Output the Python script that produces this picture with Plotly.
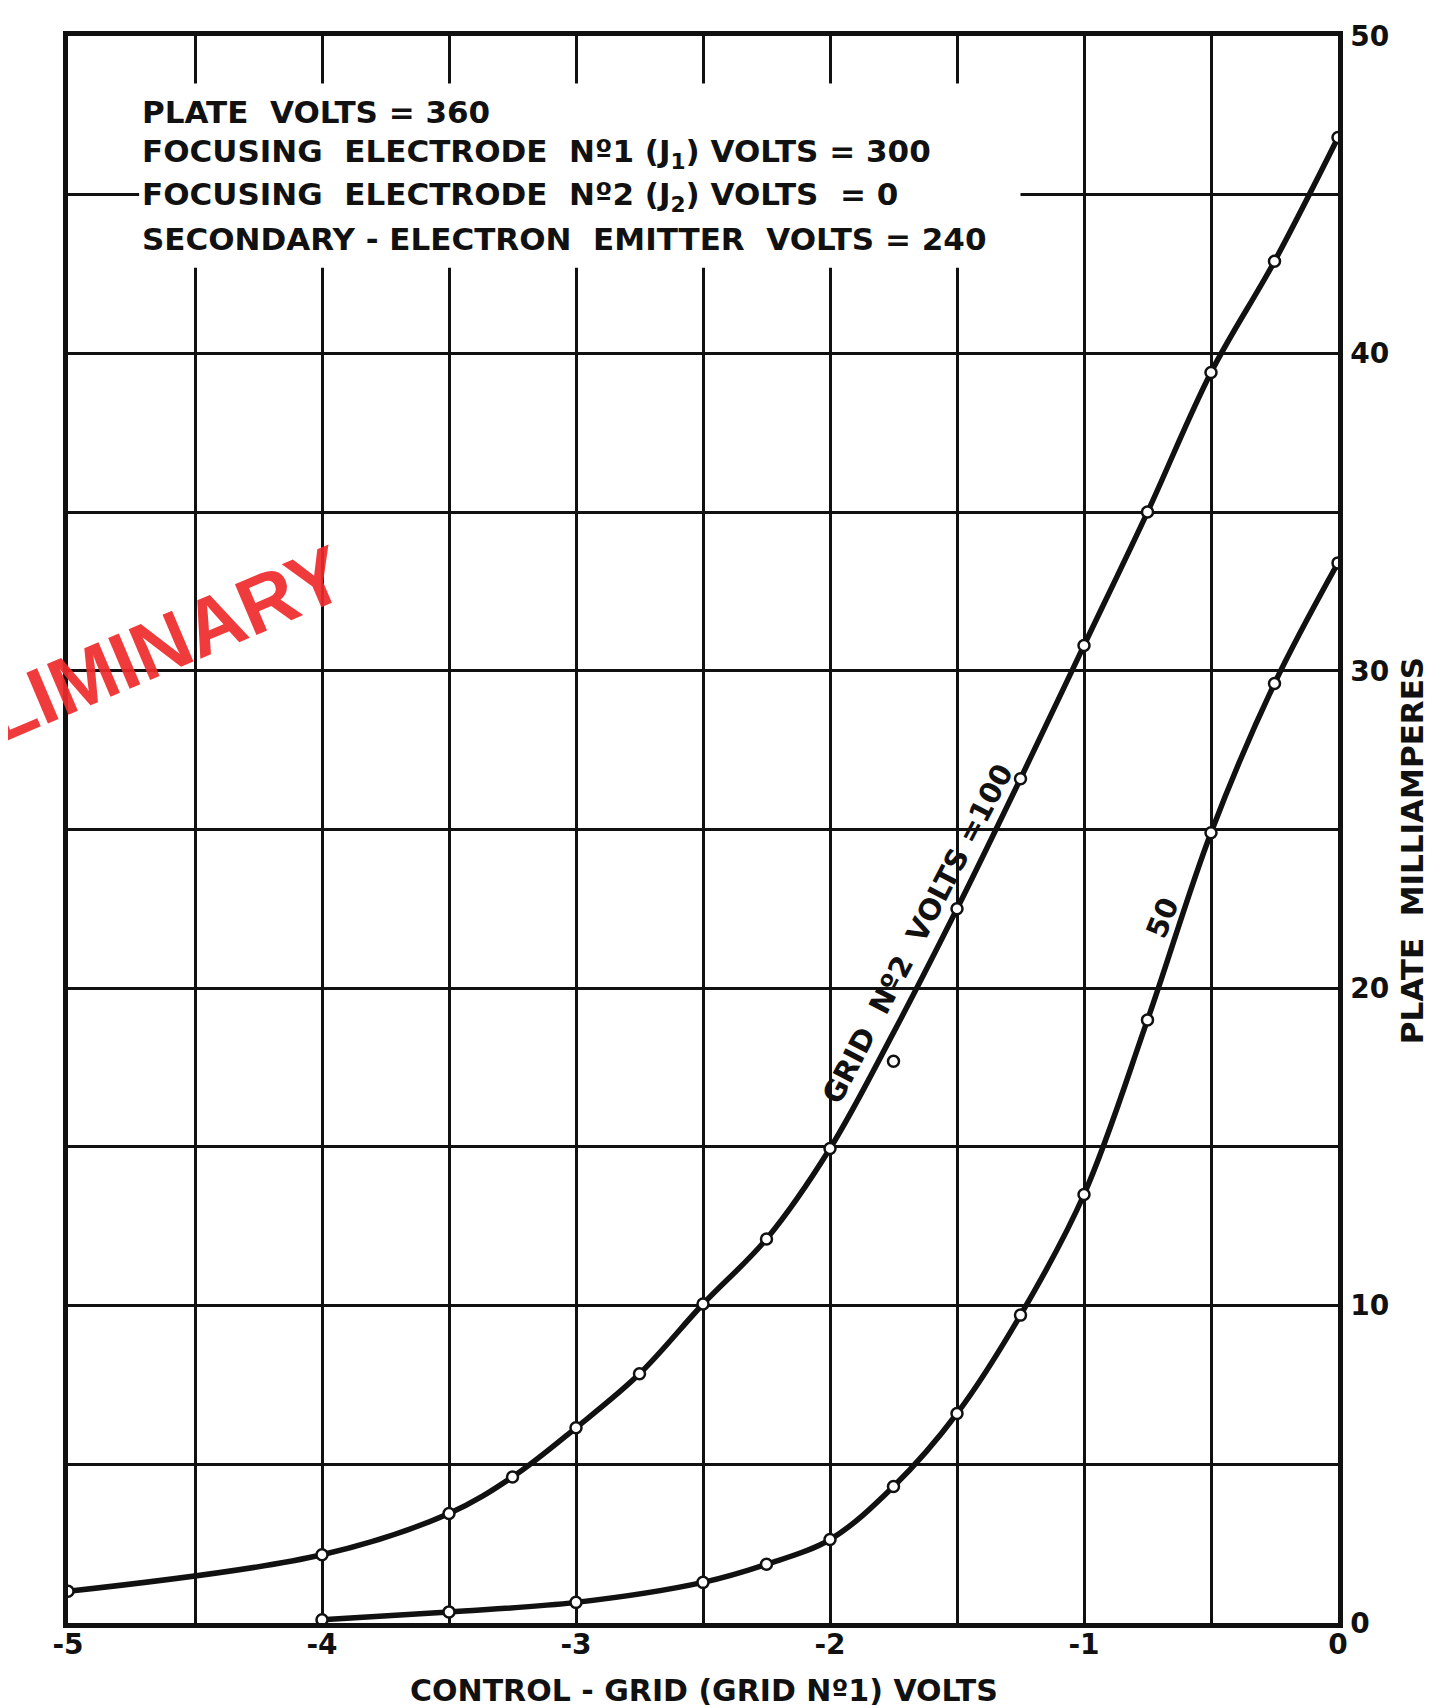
import plotly.graph_objects as go

# ---------------- data ----------------
# Grid No.2 = 100 V curve
g100_x = [-5, -4, -3.5, -3.25, -3, -2.75, -2.5, -2.25, -2, -1.75, -1.5, -1.25, -1, -0.75, -0.5, -0.25, 0]
g100_curve_y = [1.0, 2.15, 3.45, 4.6, 6.15, 7.85, 10.05, 12.1, 14.95, 18.6, 22.5, 26.6, 30.8, 35.0, 39.4, 42.9, 46.8]
g100_points_y = [1.0, 2.15, 3.45, 4.6, 6.15, 7.85, 10.05, 12.1, 14.95, 17.7, 22.5, 26.6, 30.8, 35.0, 39.4, 42.9, 46.8]

# Grid No.2 = 50 V curve
g50_x = [-4, -3.5, -3, -2.5, -2.25, -2, -1.75, -1.5, -1.25, -1, -0.75, -0.5, -0.25, 0]
g50_y = [0.1, 0.35, 0.65, 1.28, 1.85, 2.63, 4.3, 6.6, 9.7, 13.5, 19.0, 24.9, 29.6, 33.4]

x_tick_vals = [-5, -4.5, -4, -3.5, -3, -2.5, -2, -1.5, -1, -0.5, 0]
x_tick_text = ["-5", "", "-4", "", "-3", "", "-2", "", "-1", "", "0"]
y_tick_vals = [0, 5, 10, 15, 20, 25, 30, 35, 40, 45, 50]
y_tick_text = ["0", "", "10", "", "20", "", "30", "", "40", "", "50"]

NB = "\u00a0"
info_lines = [
    f"PLATE{NB}{NB}VOLTS = 360",
    f"FOCUSING{NB}{NB}ELECTRODE{NB}{NB}Nº1 (J<sub>1</sub>) VOLTS = 300",
    f"FOCUSING{NB}{NB}ELECTRODE{NB}{NB}Nº2 (J<sub>2</sub>) VOLTS{NB}{NB}= 0",
    f"SECONDARY - ELECTRON{NB}{NB}EMITTER{NB}{NB}VOLTS = 240",
]
info_y = [47.6, 46.3, 44.95, 43.6]

FONT = "DejaVu Sans, Liberation Sans, sans-serif"
BLACK = "#111111"

fig = go.Figure()

fig.add_trace(go.Scatter(
    x=g100_x, y=g100_curve_y, mode="lines",
    line=dict(color=BLACK, width=5.5, shape="spline", smoothing=1.0),
    hoverinfo="skip", showlegend=False))
fig.add_trace(go.Scatter(
    x=g100_x, y=g100_points_y, mode="markers",
    marker=dict(symbol="circle", size=11, color="white", line=dict(color=BLACK, width=2.5)),
    showlegend=False))
fig.add_trace(go.Scatter(
    x=g50_x, y=g50_y, mode="lines+markers",
    line=dict(color=BLACK, width=5.5, shape="spline", smoothing=1.0),
    marker=dict(symbol="circle", size=11, color="white", line=dict(color=BLACK, width=2.5)),
    showlegend=False))

# white panel behind the legend text (breaks the grid lines as in the original)
fig.add_shape(type="rect", xref="x", yref="y", x0=-4.72, x1=-1.25, y0=42.7, y1=48.5,
              fillcolor="white", line=dict(width=0), layer="between")

for txt, yy in zip(info_lines, info_y):
    fig.add_annotation(x=-4.715, y=yy, xref="x", yref="y", text=txt, showarrow=False,
                       xanchor="left", yanchor="middle",
                       font=dict(family=FONT, size=31, color=BLACK, weight="bold"))

# curve labels
fig.add_annotation(x=-1.655, y=21.7, xref="x", yref="y", text=f"GRID{NB}{NB}Nº2{NB}{NB}VOLTS =100",
                   showarrow=False, textangle=-62.5,
                   font=dict(family=FONT, size=29, color=BLACK, weight="bold"))
fig.add_annotation(x=-0.69, y=22.2, xref="x", yref="y", text="50",
                   showarrow=False, textangle=-68,
                   font=dict(family=FONT, size=29, color=BLACK, weight="bold"))

# axis titles
fig.add_annotation(x=0.501, y=-0.0425, xref="paper", yref="paper",
                   text="CONTROL - GRID (GRID Nº1) VOLTS", showarrow=False,
                   xanchor="center", yanchor="middle",
                   font=dict(family=FONT, size=30, color=BLACK, weight="bold"))
fig.add_annotation(x=1.0584, y=0.487, xref="paper", yref="paper",
                   text=f"PLATE{NB}{NB}MILLIAMPERES", showarrow=False, textangle=-90,
                   xanchor="center", yanchor="middle",
                   font=dict(family=FONT, size=31, color=BLACK, weight="bold"))

# red stamp (partly cut off by the left edge of the page, as in the original)
fig.add_annotation(x=0.0157, y=0.5965, xref="paper", yref="paper", text="PRELIMINARY",
                   showarrow=False, textangle=-23, opacity=0.92,
                   xanchor="center", yanchor="middle",
                   font=dict(family="Liberation Sans, Arial, sans-serif",
                             size=80, color="#ef2b2d", weight="bold"))

axis_common = dict(showline=True, mirror=True, linewidth=4.5, linecolor=BLACK,
                   showgrid=True, gridcolor=BLACK, gridwidth=2.5, zeroline=False,
                   ticks="", tickfont=dict(family=FONT, size=28, color=BLACK, weight="bold"))

fig.update_xaxes(range=[-5, 0], tickmode="array", tickvals=x_tick_vals, ticktext=x_tick_text,
                 ticklabelstandoff=-7, **axis_common)
fig.update_yaxes(range=[0, 50], tickmode="array", tickvals=y_tick_vals, ticktext=y_tick_text,
                 side="right", ticklabelstandoff=2, ticklabeloverflow="allow", **axis_common)

fig.update_layout(width=1442, height=1700, margin=dict(l=60, r=112, t=22, b=85),
                  plot_bgcolor="white", paper_bgcolor="white")

fig.write_html("out.html")
